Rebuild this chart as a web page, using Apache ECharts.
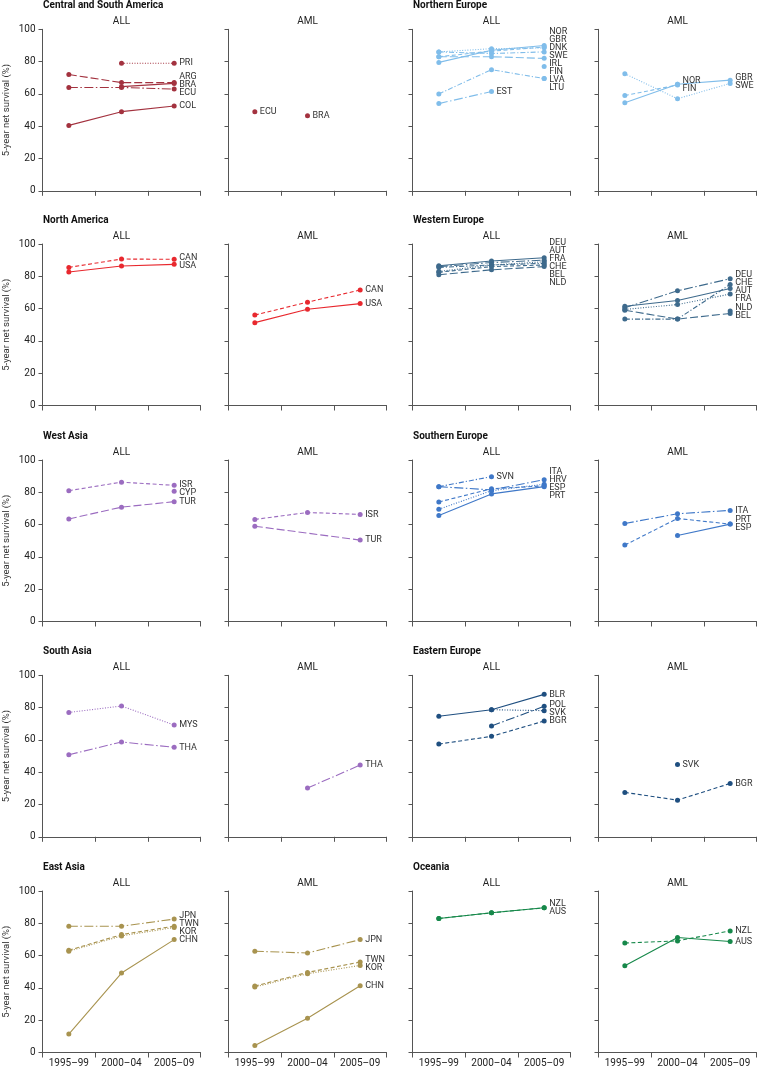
<!DOCTYPE html>
<html><head><meta charset="utf-8">
<script src="https://cdn.jsdelivr.net/npm/echarts@6/dist/echarts.min.js"></script>
<style>html,body{margin:0;padding:0;background:#fff}#c{width:758px;height:1069px}</style>
</head><body><div id="c"></div>
<script>
// ---------- DATA ----------
const periods = ['1995–99', '2000–04', '2005–09'];
const yAxisName = '5-year net survival (%)';

// Central and South America
const csaAllCountries = ['PRI', 'ARG', 'BRA', 'ECU', 'COL'];
const csaAllValues = [[null, 79, 79], [72, 67, 67], [null, 64.5, 66.5], [64, 64, 63], [40.5, 49, 52.5]];
const csaAmlCountries = ['ECU', 'BRA'];
const csaAmlValues = [[49, null, null], [null, 46.5, null]];

// North America
const naAllCountries = ['CAN', 'USA'];
const naAllValues = [[85.5, 90.7, 90.5], [82.7, 86.4, 87.4]];
const naAmlCountries = ['CAN', 'USA'];
const naAmlValues = [[56, 64, 71.5], [51.3, 59.6, 63.1]];

// West Asia
const waAllCountries = ['ISR', 'CYP', 'TUR'];
const waAllValues = [[81, 86.3, 84.3], [null, null, 80.6], [63.5, 70.8, 74.2]];
const waAmlCountries = ['ISR', 'TUR'];
const waAmlValues = [[63.2, 67.5, 66.3], [59, null, 50.4]];

// South Asia
const saAllCountries = ['MYS', 'THA'];
const saAllValues = [[77, 81, 69.2], [50.8, 58.7, 55.4]];
const saAmlCountries = ['THA'];
const saAmlValues = [[null, 30.2, 44.4]];

// East Asia
const eaAllCountries = ['JPN', 'TWN', 'KOR', 'CHN'];
const eaAllValues = [[78.2, 78.2, 82.6], [63.3, 73, 78.2], [62.7, 72.2, 77.4], [11.4, 49.2, 69.9]];
const eaAmlCountries = ['JPN', 'TWN', 'KOR', 'CHN'];
const eaAmlValues = [[62.7, 61.6, 69.9], [41.1, 49.6, 56], [40.5, 48.8, 53.9], [4.4, 21.2, 41.3]];

// Northern Europe
const neAllCountries = ['NOR', 'GBR', 'DNK', 'SWE', 'IRL', 'FIN', 'LVA', 'LTU', 'EST'];
const neAllValues = [[79.5, 87, 90], [83, 86.5, 89], [86, 88, 88.5], [86, 85, 86], [83, 83, 82],
  [null, null, 77], [60, 75, 69.5], [null, null, 69.5], [54, 61.5, null]];
const neAmlCountries = ['NOR', 'FIN', 'GBR', 'SWE'];
const neAmlValues = [[54.5, 66, null], [59, 65.5, null], [null, 66, 68.5], [72.5, 57, 66.5]];

// Western Europe
const weAllCountries = ['DEU', 'AUT', 'FRA', 'CHE', 'BEL', 'NLD'];
const weAllValues = [[86.5, 89.5, 91.5], [86, 88.5, 90], [83, 87, 89], [85.5, 87, 88], [82.5, 86, 87], [81, 84, 86]];
const weAmlCountries = ['DEU', 'CHE', 'AUT', 'FRA', 'NLD', 'BEL'];
const weAmlValues = [[60.5, 71, 78.5], [53.5, 53.5, 75], [61.5, 65, 72.5], [59.5, 62.5, 69], [null, null, 58.5], [59, 53.5, 57]];

// Southern Europe
const seAllCountries = ['SVN', 'ITA', 'HRV', 'ESP', 'PRT'];
const seAllValues = [[83.5, 89.7, null], [83.5, 81.5, 87.8], [69.5, 81, 85], [74, 82.2, 84], [65.7, 79, 83.5]];
const seAmlCountries = ['ITA', 'PRT', 'ESP'];
const seAmlValues = [[60.7, 66.7, 68.8], [47.3, 63.8, 60.3], [null, 53.3, 60.3]];

// Eastern Europe
const eeAllCountries = ['BLR', 'POL', 'SVK', 'BGR'];
const eeAllValues = [[74.6, 78.7, 88.2], [null, 68.6, 80.8], [null, 78.7, 78.1], [57.4, 62.2, 71.7]];
const eeAmlCountries = ['SVK', 'BGR'];
const eeAmlValues = [[null, 44.8, null], [27.5, 22.7, 33]];

// Oceania
const ocAllCountries = ['NZL', 'AUS'];
const ocAllValues = [[83, 86.5, 89.6], [83, 86.5, 89.6]];
const ocAmlCountries = ['NZL', 'AUS'];
const ocAmlValues = [[67.8, 69.1, 75.3], [53.7, 71.2, 68.7]];

// ---------- STYLES ----------
const csaAllDash = ['dot', 'longdash', 'solid', 'longdashdot', 'solid'];
const csaAmlDash = ['solid', 'solid'];
const naDash = ['dash', 'solid'];
const waAllDash = ['dash', 'dash', 'longdash'];
const waAmlDash = ['dash', 'longdash'];
const saAllDash = ['dot', 'longdashdot'];
const saAmlDash = ['longdashdot'];
const eaDash = ['longdashdot', 'dash', 'dot', 'solid'];
const neAllDash = ['solid', 'dash', 'dot', 'dashdot', 'longdash', 'solid', 'dashdot', 'solid', 'longdashdot'];
const neAmlDash = ['solid', 'dash', 'solid', 'dot'];
const weAllDash = ['solid', 'longdashdot', 'dot', 'dashdot', 'dash', 'longdash'];
const weAmlDash = ['longdashdot', 'dashdot', 'solid', 'dot', 'dot', 'longdash'];
const seAllDash = ['dashdot', 'longdashdot', 'dot', 'dash', 'solid'];
const seAmlDash = ['longdashdot', 'dash', 'solid'];
const eeAllDash = ['solid', 'longdashdot', 'dot', 'dash'];
const eeAmlDash = ['solid', 'dash'];
const ocDash = ['dash', 'solid'];

const DASH = {
  solid: 'solid', dash: [4, 2.5], longdash: [8, 3], dot: [1, 1.6],
  dashdot: [5, 2, 1.2, 2], longdashdot: [9, 2.5, 1.5, 2.5]
};
const COL = {
  csa: '#a3323f', na: '#e8282e', wa: '#9b6cc0', sa: '#9b6cc0', ea: '#a8934f',
  ne: '#80bdea', we: '#3e6a8c', se: '#3f78c8', ee: '#1f4f80', oc: '#16884a'
};
const FONT = 'Roboto, "Noto Sans", sans-serif';
const AXIS = '#555';
const colLeft = [42.5, 228.5, 412.5, 598.5];
const rowTop = [29.3, 244, 460, 675.3, 891];
const W = 158, H = 161.5;
const LABEL_GAP = 8;

const panels = [
  {row: 0, col: 0, region: 'Central and South America', sub: 'ALL', names: csaAllCountries, vals: csaAllValues, dash: csaAllDash, color: COL.csa},
  {row: 0, col: 1, sub: 'AML', names: csaAmlCountries, vals: csaAmlValues, dash: csaAmlDash, color: COL.csa},
  {row: 0, col: 2, region: 'Northern Europe', sub: 'ALL', names: neAllCountries, vals: neAllValues, dash: neAllDash, color: COL.ne},
  {row: 0, col: 3, sub: 'AML', names: neAmlCountries, vals: neAmlValues, dash: neAmlDash, color: COL.ne},
  {row: 1, col: 0, region: 'North America', sub: 'ALL', names: naAllCountries, vals: naAllValues, dash: naDash, color: COL.na},
  {row: 1, col: 1, sub: 'AML', names: naAmlCountries, vals: naAmlValues, dash: naDash, color: COL.na},
  {row: 1, col: 2, region: 'Western Europe', sub: 'ALL', names: weAllCountries, vals: weAllValues, dash: weAllDash, color: COL.we},
  {row: 1, col: 3, sub: 'AML', names: weAmlCountries, vals: weAmlValues, dash: weAmlDash, color: COL.we},
  {row: 2, col: 0, region: 'West Asia', sub: 'ALL', names: waAllCountries, vals: waAllValues, dash: waAllDash, color: COL.wa},
  {row: 2, col: 1, sub: 'AML', names: waAmlCountries, vals: waAmlValues, dash: waAmlDash, color: COL.wa, connect: true},
  {row: 2, col: 2, region: 'Southern Europe', sub: 'ALL', names: seAllCountries, vals: seAllValues, dash: seAllDash, color: COL.se},
  {row: 2, col: 3, sub: 'AML', names: seAmlCountries, vals: seAmlValues, dash: seAmlDash, color: COL.se},
  {row: 3, col: 0, region: 'South Asia', sub: 'ALL', names: saAllCountries, vals: saAllValues, dash: saAllDash, color: COL.sa},
  {row: 3, col: 1, sub: 'AML', names: saAmlCountries, vals: saAmlValues, dash: saAmlDash, color: COL.sa},
  {row: 3, col: 2, region: 'Eastern Europe', sub: 'ALL', names: eeAllCountries, vals: eeAllValues, dash: eeAllDash, color: COL.ee},
  {row: 3, col: 3, sub: 'AML', names: eeAmlCountries, vals: eeAmlValues, dash: eeAmlDash, color: COL.ee},
  {row: 4, col: 0, region: 'East Asia', sub: 'ALL', names: eaAllCountries, vals: eaAllValues, dash: eaDash, color: COL.ea},
  {row: 4, col: 1, sub: 'AML', names: eaAmlCountries, vals: eaAmlValues, dash: eaDash, color: COL.ea},
  {row: 4, col: 2, region: 'Oceania', sub: 'ALL', names: ocAllCountries, vals: ocAllValues, dash: ocDash, color: COL.oc},
  {row: 4, col: 3, sub: 'AML', names: ocAmlCountries, vals: ocAmlValues, dash: ocDash, color: COL.oc}
];

const chart = echarts.init(document.getElementById('c'), null, {renderer: 'canvas'});

const graphics = [];
panels.forEach(p => {
  if (p.region) {
    graphics.push({type: 'text', x: colLeft[p.col] + 0.5, y: rowTop[p.row] - 24, silent: true,
      style: {text: p.region, fill: '#111', font: 'bold 10px ' + FONT, align: 'left', verticalAlign: 'middle',
        textAlign: 'left', textVerticalAlign: 'middle'}});
  }
  graphics.push({type: 'text', x: colLeft[p.col] + W / 2, y: rowTop[p.row] - 8, silent: true,
    style: {text: p.sub, fill: '#222', font: '10px ' + FONT, align: 'center', verticalAlign: 'middle',
      textAlign: 'center', textVerticalAlign: 'middle'}});
});

const baseOption = {
  animation: false,
  backgroundColor: '#fff',
  textStyle: {fontFamily: FONT},
  grid: panels.map(p => ({left: colLeft[p.col], top: rowTop[p.row], width: W, height: H})),
  xAxis: panels.map((p, i) => ({
    type: 'category', gridIndex: i, data: periods, boundaryGap: true,
    axisLine: {show: true, lineStyle: {color: AXIS, width: 1}},
    axisTick: {show: true, interval: 0, length: 5, lineStyle: {color: AXIS, width: 1}},
    axisLabel: {show: p.row === 4, interval: 0, margin: 6, fontSize: 10, color: '#222', fontFamily: FONT},
    splitLine: {show: false}
  })),
  yAxis: panels.map((p, i) => ({
    type: 'value', gridIndex: i, min: 0, max: 100, interval: 20,
    axisLine: {show: true, lineStyle: {color: AXIS, width: 1}},
    axisTick: {show: true, length: 4, lineStyle: {color: AXIS, width: 1}},
    axisLabel: {show: p.col === 0, margin: 7, fontSize: 10, color: '#222', fontFamily: FONT},
    splitLine: {show: false},
    name: p.col === 0 ? yAxisName : '', nameLocation: 'middle', nameGap: 31,
    nameTextStyle: {fontSize: 9.5, color: '#333', fontFamily: FONT}
  })),
  graphic: graphics,
  series: []
};
chart.setOption(baseOption);

// label layout: per panel, per x position, spread overlapping labels
function spread(items) {
  items.sort((a, b) => a.py - b.py || a.order - b.order);
  let groups = items.map(it => ({m: [it]}));
  const center = g => g.m.reduce((s, it) => s + it.py, 0) / g.m.length;
  const first = g => center(g) - (g.m.length - 1) * LABEL_GAP / 2;
  const last = g => center(g) + (g.m.length - 1) * LABEL_GAP / 2;
  let merged = true;
  while (merged) {
    merged = false;
    for (let i = 0; i < groups.length - 1; i++) {
      if (last(groups[i]) + LABEL_GAP > first(groups[i + 1]) + 0.01) {
        groups[i].m = groups[i].m.concat(groups[i + 1].m);
        groups.splice(i + 1, 1);
        merged = true;
        break;
      }
    }
  }
  groups.forEach(g => {
    const f = first(g);
    g.m.forEach((it, k) => { it.ly = f + k * LABEL_GAP; });
  });
}

const series = [];
panels.forEach((p, gi) => {
  const ends = [];
  p.names.forEach((name, si) => {
    const v = p.vals[si];
    let li = -1;
    v.forEach((x, k) => { if (x !== null) li = k; });
    const pt = chart.convertToPixel({gridIndex: gi}, [li, v[li]]);
    ends.push({si, idx: li, py: pt[1], order: si});
  });
  [0, 1, 2].forEach(k => spread(ends.filter(e => e.idx === k)));
  p.names.forEach((name, si) => {
    const v = p.vals[si];
    const e = ends[si];
    const data = v.map((x, k) => {
      if (k !== e.idx) return x;
      return {value: x, label: {show: true, formatter: name, position: 'right', distance: 2.5,
        offset: [0, e.ly - e.py], fontSize: 9, color: '#333', fontFamily: FONT}};
    });
    series.push({
      type: 'line', name: p.sub + '-' + name, xAxisIndex: gi, yAxisIndex: gi, data,
      symbol: 'circle', symbolSize: 5, showSymbol: true, showAllSymbol: true,
      connectNulls: !!p.connect,
      lineStyle: {color: p.color, width: 1.1, type: DASH[p.dash[si]]},
      itemStyle: {color: p.color},
      label: {show: false},
      emphasis: {disabled: true},
      silent: true, z: 3
    });
  });
});
chart.setOption({series});
</script>
</body></html>
